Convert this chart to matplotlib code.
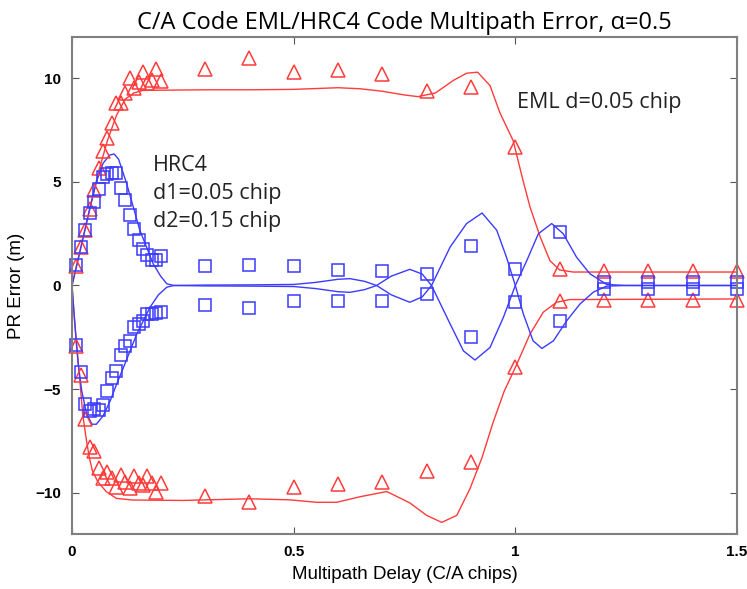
import numpy as np
import matplotlib.pyplot as plt

# Measured points: delay grid for the dense part, then coarse grid
dense_x = [0.01, 0.02, 0.03, 0.04, 0.05, 0.06, 0.07, 0.08, 0.09, 0.10,
           0.11, 0.12, 0.13, 0.14, 0.15, 0.16, 0.17, 0.18, 0.19, 0.20]
coarse_x = [0.3, 0.4, 0.5, 0.6, 0.7, 0.8, 0.9, 1.0, 1.1, 1.2, 1.3, 1.4, 1.5]
meas_x = dense_x + coarse_x

eml_meas_hi = [0.95, 1.86, 2.7, 3.7, 4.6, 5.66, 6.5, 7.1, 7.85, 8.8,
               8.82, 9.3, 10.0, 9.55, 9.82, 10.3, 9.8, 9.9, 10.44, 9.87,
               10.47, 11.0, 10.3, 10.4, 10.2, 9.4, 9.6, 6.7, 0.8, 0.68, 0.68, 0.68, 0.68]
eml_meas_lo = [-2.9, -4.3, -6.47, -7.8, -8.0, -8.82, -9.3, -9.0, -9.3, -9.71,
               -9.14, -9.5, -9.79, -9.22, -9.55, -9.63, -9.22, -9.55, -9.95, -9.55,
               -10.15, -10.44, -9.71, -9.58, -9.5, -8.95, -8.54, -3.96, -0.75, -0.68, -0.68, -0.68, -0.68]
hrc_meas_hi = [0.97, 1.86, 2.67, 3.51, 4.04, 4.64, 5.26, 5.39, 5.45, 5.45,
               4.69, 4.13, 3.4, 2.75, 2.18, 1.78, 1.46, 1.21, 1.21, 1.41,
               0.92, 0.97, 0.92, 0.73, 0.7, 0.57, 1.9, 0.81, 2.59, 0.15, 0.15, 0.15, 0.15]
hrc_meas_lo = [-2.85, -4.2, -5.7, -6.05, -5.95, -6.0, -5.75, -5.1, -4.45, -4.13,
               -3.35, -2.9, -2.7, -2.0, -1.85, -1.7, -1.38, -1.38, -1.34, -1.29,
               -0.92, -1.08, -0.76, -0.76, -0.76, -0.4, -2.48, -0.81, -1.7, -0.15, -0.15, -0.15, -0.15]

# Theoretical error envelopes
eml_hi_x = [0, 0.01, 0.02, 0.04, 0.06, 0.08, 0.10, 0.12, 0.14, 0.16, 0.2, 0.3, 0.4,
            0.5, 0.6, 0.65, 0.7, 0.75, 0.78, 0.82, 0.86, 0.89, 0.915, 0.943, 0.965,
            0.995, 1.017, 1.033, 1.056, 1.078, 1.1, 1.13, 1.5]
eml_hi = [0, 0.95, 1.85, 3.7, 5.5, 7.0, 8.2, 9.0, 9.3, 9.42, 9.43, 9.45, 9.45,
          9.47, 9.55, 9.5, 9.38, 9.2, 9.12, 9.3, 9.9, 10.25, 10.3, 9.65, 8.35,
          7.0, 5.1, 3.8, 2.35, 1.2, 0.75, 0.65, 0.65]
eml_lo_x = [0, 0.005, 0.01, 0.017, 0.024, 0.032, 0.039, 0.046, 0.058, 0.077, 0.1,
            0.137, 0.25, 0.4, 0.49, 0.552, 0.597, 0.65, 0.71, 0.762, 0.8, 0.834,
            0.868, 0.898, 0.925, 0.95, 0.975, 1.0, 1.033, 1.063, 1.093, 1.123, 1.5]
eml_lo = [0, -1.5, -2.8, -4.4, -6.2, -7.4, -8.3, -8.95, -9.47, -9.95, -10.28,
          -10.36, -10.38, -10.3, -10.35, -10.47, -10.47, -10.2, -9.95, -10.5, -11.1, -11.44,
          -11.1, -9.8, -8.3, -6.6, -5.1, -3.96, -2.35, -1.29, -0.81, -0.68, -0.65]

hrc_a_x = [0, 0.01, 0.025, 0.04, 0.055, 0.07, 0.085, 0.095, 0.105, 0.123, 0.153,
           0.183, 0.2, 0.214, 0.23, 0.3, 0.4, 0.5, 0.55, 0.6, 0.627, 0.66, 0.687,
           0.72, 0.762, 0.79, 0.811, 0.853, 0.89, 0.925, 0.958, 0.98, 1.0, 1.018,
           1.04, 1.06, 1.086, 1.116, 1.146, 1.176, 1.206, 1.25, 1.5]
hrc_a = [0, 0.9, 2.3, 3.7, 5.0, 5.9, 6.3, 6.35, 6.1, 4.94, 2.67,
         1.05, 0.45, 0.08, 0.0, 0.02, 0.03, 0.05, 0.15, 0.3, 0.33, 0.2, 0.0,
         -0.45, -0.81, -0.55, 0.0, 1.86, 2.99, 3.5, 2.67, 1.37, 0.0, -1.37,
         -2.67, -3.04, -2.67, -1.7, -0.89, -0.32, -0.03, 0, 0]
hrc_b_x = [0, 0.007, 0.014, 0.022, 0.033, 0.045, 0.055, 0.07, 0.086, 0.1, 0.116,
           0.146, 0.176, 0.195, 0.214, 0.23, 0.3, 0.4, 0.5, 0.55, 0.6, 0.627, 0.66,
           0.687, 0.72, 0.762, 0.79, 0.811, 0.853, 0.883, 0.909, 0.943, 0.973, 1.0,
           1.026, 1.052, 1.082, 1.108, 1.138, 1.168, 1.206, 1.25, 1.5]
hrc_b = [0, -2.0, -3.8, -5.1, -6.2, -6.7, -6.7, -6.3, -5.58, -4.8, -3.96,
         -2.35, -1.05, -0.45, -0.08, 0, -0.02, -0.03, -0.05, -0.15, -0.3, -0.33, -0.2,
         0, 0.45, 0.78, 0.55, 0, -1.86, -3.16, -3.6, -2.99, -1.54, 0,
         1.21, 2.5, 2.99, 2.5, 1.37, 0.57, 0.05, 0, 0]

red = '#ff3b3b'
blue = '#3b3bff'
axis_font = ['Liberation Sans Narrow', 'Liberation Sans']

fig = plt.figure(figsize=(7.47, 5.89), dpi=100)
ax = fig.add_axes([0.0964, 0.0934, 0.8902, 0.8438])

ax.plot(eml_hi_x, eml_hi, color=red, lw=1)
ax.plot(eml_lo_x, eml_lo, color=red, lw=1)
ax.plot(hrc_a_x, hrc_a, color=blue, lw=1)
ax.plot(hrc_b_x, hrc_b, color=blue, lw=1)

ax.plot(meas_x, eml_meas_hi, '^', ms=10, mfc='none', mec=red, mew=1.1, clip_on=False)
ax.plot(meas_x, eml_meas_lo, '^', ms=10, mfc='none', mec=red, mew=1.1, clip_on=False)
ax.plot(meas_x, hrc_meas_hi, 's', ms=8, mfc='none', mec=blue, mew=1.1, clip_on=False)
ax.plot(meas_x, hrc_meas_lo, 's', ms=8, mfc='none', mec=blue, mew=1.1, clip_on=False)

ax.set_xlim(0, 1.5)
ax.set_ylim(-12, 12)
ax.set_xticks([0, 0.5, 1, 1.5])
ax.set_xticklabels(['0', '0.5', '1', '1.5'])
ax.set_yticks([-10, -5, 0, 5, 10])
ax.tick_params(direction='in', length=5, top=True, right=True, color='#555555',
               labelsize=11, pad=8)
for lab in ax.get_xticklabels() + ax.get_yticklabels():
    lab.set_family(axis_font)
    lab.set_weight('bold')
for sp in ax.spines.values():
    sp.set_color('#808080')
    sp.set_linewidth(1.5)

ax.set_xlabel('Multipath Delay (C/A chips)', family=axis_font, fontsize=13.5, labelpad=5)
ax.set_ylabel('PR Error (m)', family=axis_font, fontsize=13.5, labelpad=7)
ax.set_title('C/A Code EML/HRC4 Code Multipath Error, α=0.5', family='Open Sans',
             fontsize=17, pad=6)

ax.text(0.183, 5.8, 'HRC4', family='Open Sans', fontsize=15.5, va='center', color='#222222')
ax.text(0.183, 4.45, 'd1=0.05 chip', family='Open Sans', fontsize=15.5, va='center', color='#222222')
ax.text(0.183, 3.1, 'd2=0.15 chip', family='Open Sans', fontsize=15.5, va='center', color='#222222')
ax.text(1.004, 8.83, 'EML d=0.05 chip', family='Open Sans', fontsize=15.5, va='center', color='#222222')

plt.savefig('out.png', dpi=100)
